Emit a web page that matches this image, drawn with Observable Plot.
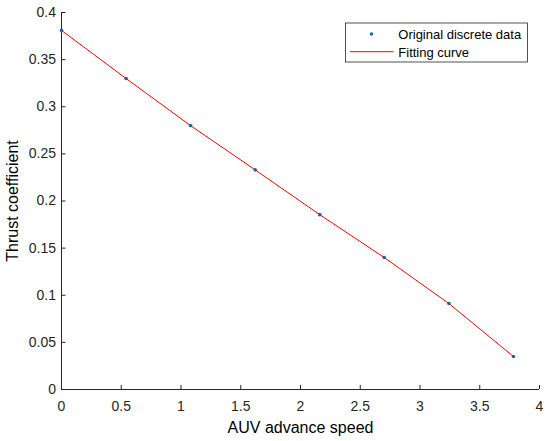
<!DOCTYPE html>
<html>
<head>
<meta charset="utf-8">
<script src="https://cdn.jsdelivr.net/npm/d3@7"></script>
<script src="https://cdn.jsdelivr.net/npm/@observablehq/plot@0.6"></script>
<style>
  html, body { margin: 0; padding: 0; background: #fff; }
  #chart { width: 550px; height: 441px; }
</style>
</head>
<body>
<div id="chart"></div>
<script>
// Data
const speed  = [0, 0.540, 1.080, 1.621, 2.161, 2.701, 3.242, 3.782];
const thrust = [0.381, 0.330, 0.280, 0.233, 0.1855, 0.140, 0.0912, 0.035];
const xTicks = [0, 0.5, 1, 1.5, 2, 2.5, 3, 3.5, 4];
const yTicks = [0, 0.05, 0.1, 0.15, 0.2, 0.25, 0.3, 0.35, 0.4];
const legendLabels = ["Original discrete data", "Fitting curve"];

const data = speed.map((s, i) => ({speed: s, thrust: thrust[i]}));

const axisColor = "#262626";
const dotColor = "#0072BD";
const lineColor = "#FF0000";

function legendMark(index, scales, values, dimensions) {
  const g = d3.create("svg:g");
  const x0 = 345.5, y0 = 23, w = 182, h = 39;
  g.append("rect").attr("x", x0).attr("y", y0).attr("width", w).attr("height", h)
    .attr("fill", "#fff").attr("stroke", axisColor).attr("stroke-width", 0.8);
  g.append("circle").attr("cx", x0 + 26).attr("cy", y0 + 11).attr("r", 1.8).attr("fill", dotColor);
  g.append("line").attr("x1", x0 + 4.5).attr("x2", x0 + 48).attr("y1", y0 + 28.7).attr("y2", y0 + 28.7)
    .attr("stroke", lineColor).attr("stroke-width", 1);
  legendLabels.forEach((t, i) => {
    g.append("text").attr("x", x0 + 52.8).attr("y", y0 + 11.5 + i * 17.5)
      .attr("dy", "0.35em").attr("text-anchor", "start")
      .attr("font-size", 13).attr("fill", "#000").text(t);
  });
  return g.node();
}

const plot = Plot.plot({
  width: 550,
  height: 441,
  marginLeft: 61,
  marginRight: 11,
  marginTop: 12,
  marginBottom: 52,
  style: {fontFamily: "'Liberation Sans', Arial, sans-serif", fontSize: "14px", background: "#fff"},
  x: {domain: [0, 4]},
  y: {domain: [0, 0.4]},
  marks: [
    Plot.axisX({
      ticks: xTicks, tickSize: -4, tickPadding: 16, stroke: axisColor, color: axisColor,
      fontSize: 14, tickFormat: d3.format("~g"),
      label: "AUV advance speed", labelAnchor: "center", labelArrow: "none", labelOffset: 43
    }),
    Plot.axisY({
      ticks: yTicks, tickSize: -4.5, tickPadding: 10, stroke: axisColor, color: axisColor,
      fontSize: 14, tickFormat: d3.format("~g"),
      label: "Thrust coefficient", labelAnchor: "center", labelArrow: "none", labelOffset: 55
    }),
    Plot.ruleX([0], {stroke: axisColor, strokeWidth: 1}),
    Plot.ruleY([0], {stroke: axisColor, strokeWidth: 1}),
    Plot.dot(data, {x: "speed", y: "thrust", r: 1.8, fill: dotColor, stroke: null}),
    Plot.line(data, {x: "speed", y: "thrust", stroke: lineColor, strokeWidth: 1}),
    legendMark
  ]
});

plot.querySelectorAll("[aria-label='x-axis label'] text, [aria-label='y-axis label'] text").forEach(t => {
  t.setAttribute("font-size", "16");
  t.setAttribute("fill", "#000");
});
plot.querySelectorAll("[aria-label$='tick label'] text").forEach(t => t.setAttribute("fill", axisColor));
document.getElementById("chart").appendChild(plot);
</script>
</body>
</html>
